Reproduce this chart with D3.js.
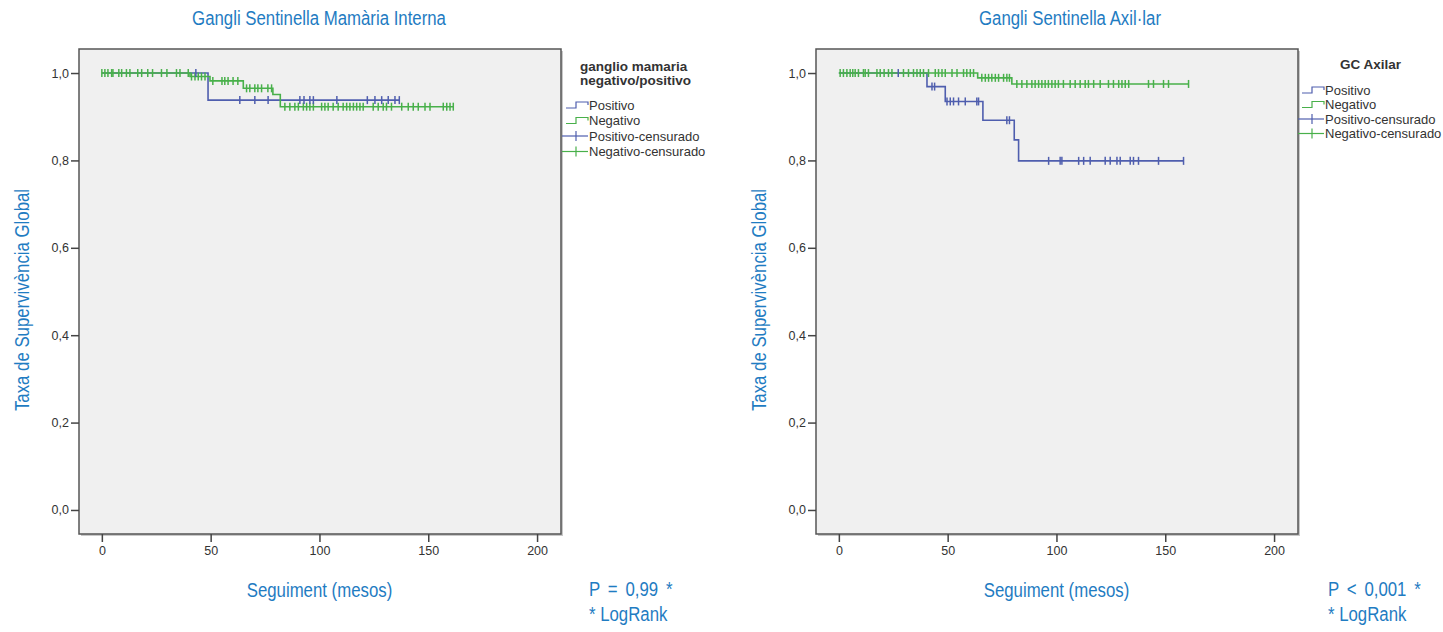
<!DOCTYPE html>
<html><head><meta charset="utf-8">
<script src="https://cdn.jsdelivr.net/npm/d3@7"></script>
<style>
html,body{margin:0;padding:0;background:#fff;}
svg{display:block;}
</style></head>
<body>
<svg id="chart" width="1443" height="632"></svg>
<script>
// ---------------- DATA ----------------
const xTicks = [0, 50, 100, 150, 200];
const yTicks = [0, 0.2, 0.4, 0.6, 0.8, 1.0];
const yTickLabels = ["0,0", "0,2", "0,4", "0,6", "0,8", "1,0"];
const legendLabels = ["Positivo", "Negativo", "Positivo-censurado", "Negativo-censurado"];

// Left chart: Gangli Sentinella Mamària Interna
const leftPosTimes = [0, 48.8];
const leftPosSurv = [1.0, 0.938];
const leftPosEnd = 137;
const leftPosCensor = [43.2, 63.4, 70.3, 76.4, 91, 92.9, 95.6, 97.2, 108, 122, 125.5, 128.6, 131.6, 134.7, 136.7];

const leftNegTimes = [0, 40.5, 49.7, 65, 78.6, 82];
const leftNegSurv = [1.0, 0.992, 0.982, 0.965, 0.951, 0.923];
const leftNegEnd = 161.5;
const leftNegCensor = [0, 1.4, 2.8, 4.5, 5.1, 7.8, 9.1, 11.3, 12.9, 16.5, 18.3, 21.1, 23.3, 27.4, 29.9, 34.3, 35.9, 39.7,
  41.2, 42.8, 44.3, 45.8, 47.4,
  51, 55.2, 56.5, 58, 60.3, 62.5,
  66.5, 68, 70.3, 71.7, 73.4, 76.3, 78,
  84.1, 86.4, 88.7, 90.3, 92.6, 94.1, 95.6, 97.2, 101, 102.5, 104, 106.3, 108.6, 110.9, 112.5, 114, 115.6, 117.1, 118.6, 120.1,
  124.7, 127, 129.3, 130.8, 133.1, 137.8, 140.8, 143.1, 145.4, 148.5, 150.8, 156.9, 158.5, 160, 161.5];

// Right chart: Gangli Sentinella Axil·lar
const rightPosTimes = [0, 40.5, 48.9, 66.2, 80.6, 82.6];
const rightPosSurv = [1.0, 0.969, 0.935, 0.892, 0.847, 0.799];
const rightPosEnd = 158.4;
const rightPosCensor = [27.3, 42.8, 44, 49.7, 51.2, 52.7, 55, 58.1, 63.4, 64.2, 77.2, 78.4, 96.4, 101.7, 102.5, 110.2, 112.5,
  115.5, 122.4, 124.7, 127.8, 129.3, 133.9, 135.4, 137.7, 146.9, 158.4];

const rightNegTimes = [0, 63.8, 79.5];
const rightNegSurv = [1.0, 0.989, 0.975];
const rightNegEnd = 160.7;
const rightNegCensor = [0.6, 2.1, 3.7, 5.2, 6.4, 7.5, 9, 11.3, 12.1, 13.6, 17.5, 19, 20.8, 22.8, 24.4, 29.7, 32, 34.3, 35.9,
  37.4, 38.9, 41.2, 44.3, 45.8, 47.4, 48.9, 52, 54.3, 57.3, 58.8, 60.4, 61.9,
  65.7, 67.3, 68.8, 70.3, 71.9, 73.4, 75.7, 77.2, 78.4,
  81.8, 84.1, 86.4, 88.7, 90.2, 91.8, 93.3, 94.8, 96.3, 97.9, 99.4, 100.9, 103.2, 106.3, 108.6, 110.9, 113.2, 114.7, 117.1,
  120.1, 123.9, 126.2, 128.6, 130.1, 131.6, 133.2, 142.3, 144.6, 149.2, 151.5, 160.7];

// ---------------- STYLE ----------------
const BLUE = "#4f5eae";
const GREEN = "#48b04a";
const TXTBLUE = "#1f7cc2";
const ARIAL = "'Liberation Sans',Arial,sans-serif";
const CSCALE = 0.8; // condensed look

const svg = d3.select("#chart");

function surv(times, s, t) {
  let v = s[0];
  for (let i = 0; i < times.length; i++) if (t >= times[i]) v = s[i];
  return v;
}
function stepData(times, s, end) {
  const pts = times.map((t, i) => [t, s[i]]);
  pts.push([end, s[s.length - 1]]);
  return pts;
}
function condText(g, x, y, txt, anchor, rot) {
  return g.append("text")
    .attr("transform", `translate(${x},${y})${rot ? " rotate(-90)" : ""} scale(${CSCALE},1)`)
    .attr("text-anchor", anchor).attr("font-family", ARIAL).attr("font-size", 21)
    .attr("fill", TXTBLUE).text(txt);
}

function drawPanel(cfg) {
  const g = svg.append("g");
  const x = d3.scaleLinear().domain([-10.5, 211]).range([cfg.x0, cfg.x0 + 482]);
  const y = d3.scaleLinear().domain([-0.055, 1.055]).range([534, 49]);

  // shadow + box
  g.append("rect").attr("x", x.range()[0] + 2).attr("y", 51).attr("width", 482).attr("height", 485)
    .attr("fill", "#c8c8c8");
  g.append("rect").attr("x", x.range()[0]).attr("y", 49).attr("width", 482).attr("height", 485)
    .attr("fill", "#f0f0f0").attr("stroke", "#555").attr("stroke-width", 1.5);

  // axes
  const yAxis = d3.axisLeft(y).tickValues(yTicks).tickFormat((d, i) => yTickLabels[i]).tickSize(8).tickPadding(2);
  const ya = g.append("g").attr("transform", `translate(${x.range()[0]},0)`).call(yAxis);
  ya.select(".domain").remove();
  ya.selectAll("line").attr("stroke", "#444").attr("stroke-width", 1.5);
  ya.selectAll("text").attr("font-family", ARIAL).attr("font-size", 12.5).attr("fill", "#333");

  const xAxis = d3.axisBottom(x).tickValues(xTicks).tickSize(8).tickPadding(4);
  const xa = g.append("g").attr("transform", `translate(0,534)`).call(xAxis);
  xa.select(".domain").remove();
  xa.selectAll("line").attr("stroke", "#444").attr("stroke-width", 1.5);
  xa.selectAll("text").attr("font-family", ARIAL).attr("font-size", 12.5).attr("fill", "#333");

  const line = d3.line().x(d => x(d[0])).y(d => y(d[1])).curve(d3.curveStepAfter);
  cfg.series.forEach(se => {
    g.append("path").datum(stepData(se.times, se.surv, se.end)).attr("d", line)
      .attr("fill", "none").attr("stroke", se.color).attr("stroke-width", 1.6);
  });
  cfg.censorOrder.forEach(se => {
    g.append("g").selectAll("line").data(se.censor).join("line")
      .attr("x1", d => x(d)).attr("x2", d => x(d))
      .attr("y1", d => y(surv(se.times, se.surv, d)) - 4)
      .attr("y2", d => y(surv(se.times, se.surv, d)) + 4)
      .attr("stroke", se.color).attr("stroke-width", 1.5);
  });

  // titles
  condText(g, cfg.titleX, 25, cfg.title, "middle");
  condText(g, cfg.x0 - 50, 300, "Taxa de Supervivència Global", "middle", true);
  condText(g, x(100), 597, "Seguiment (mesos)", "middle");
  condText(g, cfg.pX, 596, cfg.pText, "start").attr("word-spacing", 4);
  condText(g, cfg.pX, 621, "* LogRank", "start");

  // legend
  const L = cfg.legend;
  L.titleLines.forEach((t, i) => {
    g.append("text").attr("x", L.titleX).attr("y", L.titleY + i * 13.5).attr("font-family", ARIAL)
      .attr("font-size", 13.5).attr("font-weight", 600).attr("fill", "#333").text(t);
  });
  const cols = [BLUE, GREEN, BLUE, GREEN];
  legendLabels.forEach((lab, i) => {
    const yc = L.rowY + i * L.rowStep;
    const x0 = L.symX;
    if (i < 2) {
      g.append("path").attr("d", `M${x0},${yc + 3}H${x0 + 10}V${yc - 3}H${x0 + 22}V${yc}`)
        .attr("fill", "none").attr("stroke", cols[i]).attr("stroke-width", 1.2);
    } else {
      g.append("line").attr("x1", x0 - 4).attr("x2", x0 + 22).attr("y1", yc).attr("y2", yc)
        .attr("stroke", cols[i]).attr("stroke-width", 1.2);
      g.append("line").attr("x1", x0 + 10).attr("x2", x0 + 10).attr("y1", yc - 5).attr("y2", yc + 5)
        .attr("stroke", cols[i]).attr("stroke-width", 1.2);
    }
    g.append("text").attr("x", x0 + 23).attr("y", yc + 4.5).attr("font-family", ARIAL)
      .attr("font-size", 13).attr("fill", "#333").text(lab);
  });
}

drawPanel({
  x0: 79, titleX: 319, title: "Gangli Sentinella Mamària Interna", pX: 589, pText: "P = 0,99 *",
  series: [
    {times: leftPosTimes, surv: leftPosSurv, end: leftPosEnd, color: BLUE},
    {times: leftNegTimes, surv: leftNegSurv, end: leftNegEnd, color: GREEN}
  ],
  censorOrder: [
    {times: leftNegTimes, surv: leftNegSurv, censor: leftNegCensor, color: GREEN},
    {times: leftPosTimes, surv: leftPosSurv, censor: leftPosCensor, color: BLUE}
  ],
  legend: {titleLines: ["ganglio mamaria", "negativo/positivo"], titleX: 580, titleY: 71, symX: 566, rowY: 105, rowStep: 15.5}
});

drawPanel({
  x0: 816, titleX: 1070, title: "Gangli Sentinella Axil·lar", pX: 1328, pText: "P < 0,001 *",
  series: [
    {times: rightPosTimes, surv: rightPosSurv, end: rightPosEnd, color: BLUE},
    {times: rightNegTimes, surv: rightNegSurv, end: rightNegEnd, color: GREEN}
  ],
  censorOrder: [
    {times: rightNegTimes, surv: rightNegSurv, censor: rightNegCensor, color: GREEN},
    {times: rightPosTimes, surv: rightPosSurv, censor: rightPosCensor, color: BLUE}
  ],
  legend: {titleLines: ["GC Axilar"], titleX: 1340, titleY: 69, symX: 1302, rowY: 90, rowStep: 14.5}
});
</script>
</body></html>
